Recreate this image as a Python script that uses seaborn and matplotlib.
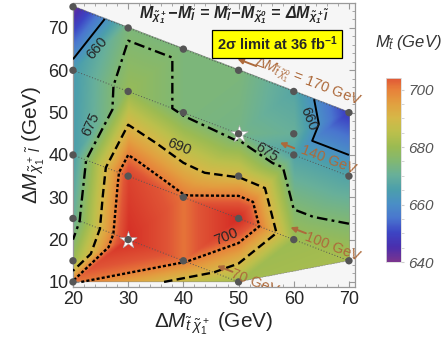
import matplotlib
matplotlib.use('Agg')
import matplotlib.pyplot as plt
import matplotlib.tri as mtri
from matplotlib.colors import LinearSegmentedColormap, Normalize
from matplotlib.mathtext import MathTextParser
import numpy as np
import pandas as pd
import seaborn as sns

# grid of benchmark points (x = dM(stop, chargino), y = dM(chargino, slepton))
dm_stop_chi = [20, 30, 40, 50, 60, 70,
               20, 30, 40, 50, 60, 70,
               20, 30, 40, 50, 60, 70,
               20, 30, 40, 50,
               20, 20, 50, 60]
dm_chi_slep = [75, 70, 65, 60, 55, 50,
               60, 55, 50, 45, 40, 35,
               40, 35, 30, 25, 20, 15,
               25, 20, 15, 10,
               15, 10, 35, 45]
m_stop_limit = [641, 674, 674, 674, 667, 648,
                664, 679, 674, 672.5, 666, 666,
                665, 707, 701, 712, 680, 682,
                670, 711, 701, 681,
                680, 701, 689.5, 670]
# which constant dM(stop, neutralino) line a point sits on (0 = none)
dm_stop_neut = [170, 170, 170, 170, 170, 170,
                140, 140, 140, 140, 140, 140,
                100, 100, 100, 100, 100, 100,
                70, 70, 70, 70,
                0, 0, 0, 0]
star_x = [30, 50]
star_y = [20, 45]

contour_levels = [660, 675, 690, 700]
cbar_ticks = [640, 660, 680, 700]

df = pd.DataFrame({'x': dm_stop_chi, 'y': dm_chi_slep,
                   'm': m_stop_limit, 'line': dm_stop_neut})

sns.set_style('ticks')
plt.rcParams['font.family'] = ['Liberation Sans', 'DejaVu Sans']
plt.rcParams['mathtext.fontset'] = 'custom'
plt.rcParams['mathtext.rm'] = 'Liberation Sans'
plt.rcParams['mathtext.it'] = 'Liberation Sans:italic'
plt.rcParams['mathtext.bf'] = 'Liberation Sans:bold'
if 'mathtext.bfit' in plt.rcParams:
    plt.rcParams['mathtext.bfit'] = 'Liberation Sans:italic:bold'

cmap = LinearSegmentedColormap.from_list('mma', [
    (0.0, '#7a3590'), (5/72, '#4a2fae'), (10/72, '#3d45c4'),
    (15/72, '#4a76cf'), (20/72, '#4a8fc6'), (25/72, '#4c9fac'),
    (30/72, '#68b09a'), (35/72, '#82b872'), (40/72, '#9cbb52'),
    (45/72, '#bcc04c'), (50/72, '#d6b848'), (55/72, '#e2a040'),
    (60/72, '#e8803a'), (64/72, '#e05536'), (1.0, '#d42a24')])
norm = Normalize(640, 712)

fig = plt.figure(figsize=(4.45, 3.56), dpi=100)
ax = fig.add_axes([0.1634, 0.1938, 0.6344, 0.7978])
ax.set_facecolor('#f6f6f6')

xlim = (19.95, 71.1)
ylim = (8.8, 75.9)

# linear interpolation on the Delaunay triangulation of the points
tri = mtri.Triangulation(df['x'], df['y'])
interp = mtri.LinearTriInterpolator(tri, df['m'])
gx, gy = np.meshgrid(np.linspace(*xlim, 500), np.linspace(*ylim, 500))
gz = interp(gx, gy)
ax.imshow(gz, origin='lower', extent=[*xlim, *ylim], aspect='auto',
          cmap=cmap, norm=norm, interpolation='bilinear', zorder=1)

# thin dotted lines of constant dM(stop, neutralino)
for val in [170, 140, 100, 70]:
    sub = df[df['line'] == val]
    ax.plot(sub['x'], sub['y'], color='#555555', lw=0.7,
            linestyle=(0, (1, 2)), zorder=2)

styles = {660: '-', 675: (0, (4.5, 1.8, 1.2, 1.8)),
          690: (0, (3.6, 1.8)), 700: (0, (1.3, 0.9))}
for lev in contour_levels:
    cs = ax.tricontour(tri, df['m'], levels=[lev], colors='k',
                       linewidths=1.7 if lev != 660 else 1.4, zorder=3)
    cs.set_linestyle(styles[lev])

# contour labels
lab = dict(fontsize=10.5, ha='center', va='center', zorder=6)
ax.text(24.3, 65.2, '660', rotation=50, **lab)
ax.text(23.2, 47.3, '675', rotation=65, **lab)
ax.text(39.2, 41.8, '690', rotation=-22, **lab)
ax.text(55.1, 40.6, '675', rotation=-33, **lab)
ax.text(47.8, 20.6, '700', rotation=22, **lab)
ax.text(62.6, 48.6, '660', rotation=-68, **lab)

ax.scatter(star_x, star_y, marker='*', s=170, color='white',
           edgecolor='#aaaaaa', linewidth=0.4, zorder=4, clip_on=False)
sns.scatterplot(data=df, x='x', y='y', color='#555555', s=28,
                edgecolor='none', ax=ax, zorder=5, clip_on=False,
                legend=False)

# brown annotations of the dM(stop, neutralino) lines
brown = '#ad6a3b'
arrows = [((49.8, 62.7), (53.2, 61.0)), ((57.5, 42.9), (60.1, 41.6)),
          ((59.4, 22.9), (62.2, 21.5)), ((46.1, 13.8), (48.9, 12.4))]
for head, tail in arrows:
    ax.annotate('', xy=head, xytext=tail, zorder=6,
                arrowprops=dict(arrowstyle='-|>', color=brown, lw=1.4,
                                mutation_scale=8, shrinkA=0, shrinkB=0))
atext = dict(color=brown, fontsize=10.5, rotation=-21, ha='center',
             va='center', zorder=6)
ax.text(62.4, 57.0, r'$\Delta M_{\tilde{t}\,\tilde{\chi}_1^0}$ = 170 GeV',
        **atext)
ax.text(66.3, 39.0, '140 GeV', **atext)
ax.text(67.0, 18.4, '100 GeV', **atext)
ax.text(52.9, 10.0, '70 GeV', clip_on=True, **atext)

title = (r'$\mathbfit{M_{\tilde{\chi}_1^+}\!-\!M_{\tilde{l}}\,=\,M_{\tilde{l}}'
         r'\!-\!M_{\tilde{\chi}_1^0}\,=\,\Delta M_{\tilde{\chi}_1^+\tilde{l}}}$')
try:
    MathTextParser('agg').parse(title)
except Exception:
    title = title.replace(r'\mathbfit', r'\mathbf')
ax.text(0.572, 0.958, title, transform=ax.transAxes, ha='center',
        va='center', fontsize=11.5, zorder=7)
ax.text(0.724, 0.856, r'2σ limit at 36 fb$^{\mathbf{-1}}$',
        transform=ax.transAxes, ha='center', va='center', fontsize=10.5,
        fontweight='bold', zorder=7,
        bbox=dict(boxstyle='square,pad=0.3', facecolor='#ffff00',
                  edgecolor='black', linewidth=0.9))

ax.set_xlim(*xlim)
ax.set_ylim(*ylim)
ax.set_xticks([20, 30, 40, 50, 60, 70])
ax.set_yticks([10, 20, 30, 40, 50, 60, 70])
ax.set_xticks(np.arange(20, 72, 2), minor=True)
ax.set_yticks(np.arange(10, 76, 2), minor=True)
ax.tick_params(which='both', direction='in', top=True, right=True,
               color='#999999', labelsize=13)
ax.tick_params(which='major', length=4, width=0.8, pad=3)
ax.tick_params(which='minor', length=2, width=0.6)
for sp in ax.spines.values():
    sp.set_color('#999999')
    sp.set_linewidth(0.9)
ax.set_xlabel(r'$\Delta M_{\tilde{t}\;\tilde{\chi}_1^+}$ (GeV)', fontsize=15,
              labelpad=2)
ax.set_ylabel(r'$\Delta M_{\tilde{\chi}_1^+\;\tilde{l}}$ (GeV)', fontsize=15,
              labelpad=1)

# colour bar
cax = fig.add_axes([0.8674, 0.2640, 0.0337, 0.5169])
bar_vals = np.linspace(640, 704, 256)
cax.imshow(bar_vals[:, None], origin='lower', extent=[0, 1, 640, 704],
           aspect='auto', cmap=cmap, norm=norm)
cax.set_xticks([])
cax.yaxis.tick_right()
cax.set_yticks(cbar_ticks)
cax.set_yticks(np.arange(640, 705, 5), minor=True)
cax.tick_params(which='both', direction='out', length=2, color='#cccccc',
                labelsize=11, labelcolor='#555555', pad=3)
for t in cax.get_yticklabels():
    t.set_style('italic')
for sp in cax.spines.values():
    sp.set_color('#dddddd')
    sp.set_linewidth(0.6)
fig.text(0.918, 0.882, r'$M_{\tilde{t}}\;$(GeV)', ha='center', va='center',
         fontsize=12, style='italic', color='#333333')

fig.savefig('out.png', dpi=100)
